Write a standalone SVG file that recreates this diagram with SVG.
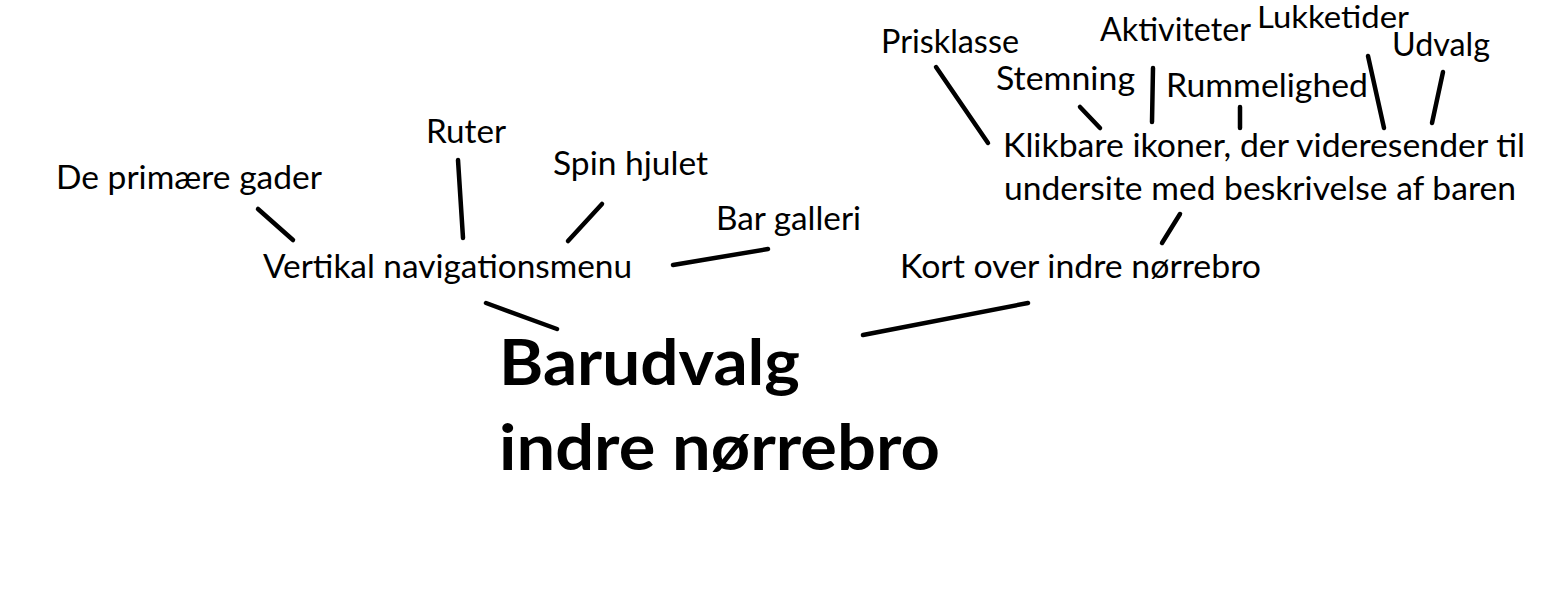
<svg xmlns="http://www.w3.org/2000/svg" width="1543" height="610" viewBox="0 0 1543 610">
<style>
.t{font-family:Lato,"Open Sans","Liberation Sans",sans-serif;font-size:32px;fill:#000}
.b{font-family:Lato,"Open Sans","Liberation Sans",sans-serif;font-size:64px;font-weight:bold;fill:#000}
.c line{stroke:#000;stroke-width:4.5;stroke-linecap:round}
</style>
<rect width="1543" height="610" fill="#fff"/>
<g id="connectors" class="c">
<line x1="258" y1="209" x2="293" y2="240"/>
<line x1="458" y1="160" x2="463" y2="238"/>
<line x1="602" y1="204" x2="568" y2="241"/>
<line x1="673" y1="265" x2="768" y2="249"/>
<line x1="486" y1="303" x2="557" y2="329"/>
<line x1="863" y1="335" x2="1028" y2="303"/>
<line x1="1162" y1="243" x2="1180" y2="214"/>
<line x1="936" y1="67" x2="988" y2="143"/>
<line x1="1080" y1="107" x2="1100" y2="128"/>
<line x1="1153" y1="68" x2="1152" y2="122"/>
<line x1="1240" y1="107" x2="1240" y2="128"/>
<line x1="1368" y1="56" x2="1384" y2="128"/>
<line x1="1443" y1="72" x2="1432" y2="123"/>
</g>
<g id="title"><text class="b" x="499" y="385" textLength="301" lengthAdjust="spacingAndGlyphs">Barudvalg</text><text class="b" x="499" y="470" textLength="441" lengthAdjust="spacingAndGlyphs">indre nørrebro</text></g>
<g id="vertikal"><text class="t" x="263" y="278" textLength="369" lengthAdjust="spacingAndGlyphs">Vertikal navigationsmenu</text></g>
<g id="kort"><text class="t" x="900" y="278" textLength="361" lengthAdjust="spacingAndGlyphs">Kort over indre nørrebro</text></g>
<g id="gader"><text class="t" x="56" y="189" textLength="266" lengthAdjust="spacingAndGlyphs">De primære gader</text></g>
<g id="ruter"><text class="t" x="426" y="143" textLength="80" lengthAdjust="spacingAndGlyphs">Ruter</text></g>
<g id="spin"><text class="t" x="553" y="175" textLength="155" lengthAdjust="spacingAndGlyphs">Spin hjulet</text></g>
<g id="galleri"><text class="t" x="716" y="230" textLength="145" lengthAdjust="spacingAndGlyphs">Bar galleri</text></g>
<g id="ikoner"><text class="t" x="1003" y="157" textLength="522" lengthAdjust="spacingAndGlyphs">Klikbare ikoner, der videresender til</text><text class="t" x="1004" y="200" textLength="512" lengthAdjust="spacingAndGlyphs">undersite med beskrivelse af baren</text></g>
<g id="prisklasse"><text class="t" x="881" y="53" textLength="138" lengthAdjust="spacingAndGlyphs">Prisklasse</text></g>
<g id="stemning"><text class="t" x="996" y="90" textLength="139" lengthAdjust="spacingAndGlyphs">Stemning</text></g>
<g id="aktiviteter"><text class="t" x="1100" y="41" textLength="151" lengthAdjust="spacingAndGlyphs">Aktiviteter</text></g>
<g id="rummelighed"><text class="t" x="1166" y="97" textLength="202" lengthAdjust="spacingAndGlyphs">Rummelighed</text></g>
<g id="lukketider"><text class="t" x="1257" y="28" textLength="152" lengthAdjust="spacingAndGlyphs" style="font-size:31px">Lukketider</text></g>
<g id="udvalg"><text class="t" x="1392" y="56" textLength="98" lengthAdjust="spacingAndGlyphs">Udvalg</text></g>
</svg>
